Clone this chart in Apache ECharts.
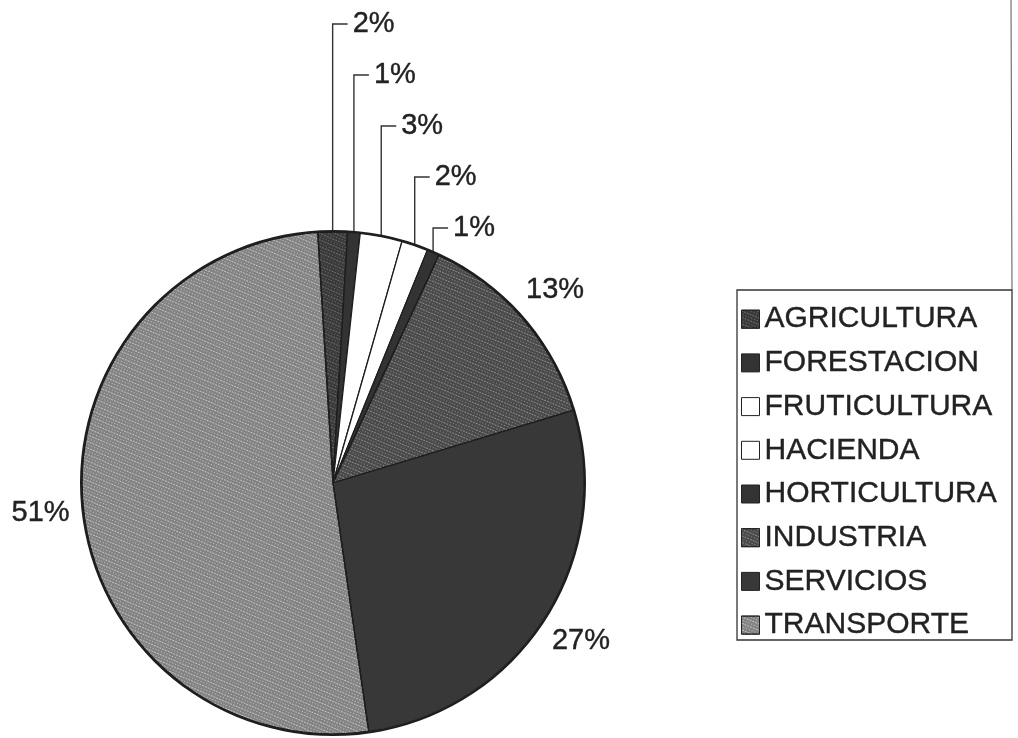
<!DOCTYPE html>
<html><head><meta charset="utf-8">
<script src="https://cdn.jsdelivr.net/npm/echarts@6/dist/echarts.min.js"></script>
<style>html,body{margin:0;padding:0;background:#fff}#c{width:1018px;height:738px}</style>
</head><body><div id="c"></div>
<script>
// ---- data ----
const categories = ['AGRICULTURA','FORESTACION','FRUTICULTURA','HACIENDA','HORTICULTURA','INDUSTRIA','SERVICIOS','TRANSPORTE'];
const values = [1.9, 0.8, 2.7, 1.7, 0.8, 13.4, 27.4, 51.3];

// ---- styles / layout ----
const sliceColors = ['#3a3a3a','#333333','#ffffff','#ffffff','#333333','#4a4a4a','#383838','#838383'];
const speckle = {
  0: {color:'rgba(255,255,255,0.25)'},
  5: {color:'rgba(255,255,255,0.35)'},
  7: {color:'rgba(255,255,255,0.5)'}
};
const CX = 333, CY = 483, R = 251;
const startOffset = -3.5;           // degrees clockwise from 12 o'clock
const smallCount = 5;
const firstLabelY = 24, labelStep = 51;
const bigLabelR = 294;
const FONT = '"Liberation Sans", Arial, sans-serif';
const TXT = '#222222';

const total = values.reduce((a,b)=>a+b,0);
const midAngles = [];
let cum = 0;
values.forEach(v => { midAngles.push(startOffset + (cum + v/2)/total*360); cum += v; });

const data = categories.map((name,i) => {
  const it = {
    name, value: values[i],
    itemStyle: {color: sliceColors[i]},
    labelLine: {show: i < smallCount}
  };
  if (speckle[i]) {
    it.itemStyle.decal = {symbol:'rect', symbolSize:1, dashArrayX:[[1,2],[2,1]], dashArrayY:[1,2], color: speckle[i].color, rotation: 0.4};
  }
  return it;
});

const chart = echarts.init(document.getElementById('c'), null, {renderer:'canvas'});
chart.setOption({
  backgroundColor:'#ffffff',
  animation:false,
  legend: {
    orient:'vertical', left:741, top:304, padding:0,
    itemWidth:18, itemHeight:18, itemGap:13.3,
    icon:'rect',
    itemStyle:{borderColor:'#222', borderWidth:1},
    textStyle:{fontSize:30, lineHeight:30, color:TXT, fontFamily:FONT, textBorderColor:TXT, textBorderWidth:0.4},
    data: categories
  },
  graphic: [
    {type:'rect', shape:{x:737, y:290, width:275, height:350}, style:{fill:'none', stroke:'#333', lineWidth:1.3}, silent:true},
    {type:'line', shape:{x1:1011, y1:0, x2:1012, y2:290}, style:{stroke:'#555', lineWidth:1}, silent:true}
  ],
  series: [{
    type:'pie',
    center:[CX, CY], radius:[0, R],
    startAngle: 90 - startOffset, clockwise:true,
    avoidLabelOverlap:false,
    itemStyle:{borderColor:'#1e1e1e', borderWidth:1.3},
    label:{show:true, position:'outside', fontSize:29, color:TXT, fontFamily:FONT, textBorderColor:TXT, textBorderWidth:0.4,
      formatter: p => Math.round(p.percent) + '%'},
    labelLine:{show:true, length:10, length2:10, lineStyle:{color:'#333', width:1.4}},
    labelLayout: function (p) {
      const i = p.dataIndex;
      const a = midAngles[i] * Math.PI/180;
      if (i < smallCount) {
        const ex = CX + R*Math.sin(a), ey = CY - R*Math.cos(a);
        const y = firstLabelY + i*labelStep;
        return {x: ex + 20, y: y, align:'left', verticalAlign:'middle',
          labelLinePoints: [[ex, ey], [ex, y], [ex + 15, y]]};
      }
      return {x: CX + bigLabelR*Math.sin(a), y: CY - bigLabelR*Math.cos(a), align:'center', verticalAlign:'middle'};
    },
    data: data
  }, {
    type:'pie', silent:true, center:[CX, CY], radius:[R, R+2],
    label:{show:false}, labelLine:{show:false},
    itemStyle:{color:'#1e1e1e'}, data:[{value:1, name:'_ring'}]
  }]
});
</script></body></html>
